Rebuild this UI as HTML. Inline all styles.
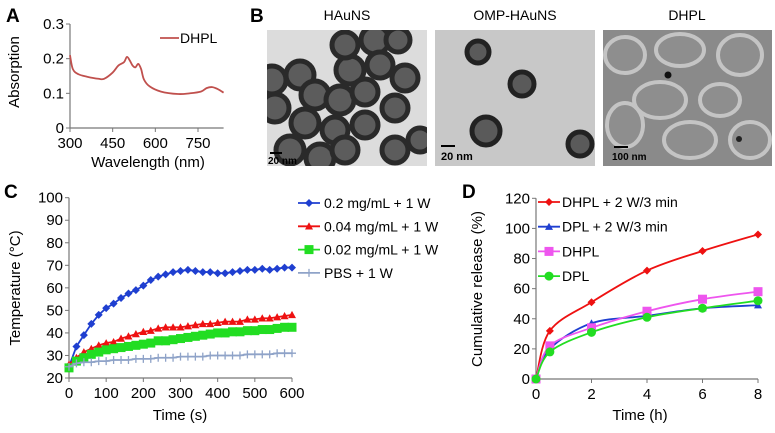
<!DOCTYPE html>
<html><head><meta charset="utf-8"><style>
html,body{margin:0;padding:0;background:#fff}
svg{display:block;font-family:"Liberation Sans",Arial,sans-serif}
</style></head><body>
<svg id="fig" width="775" height="433" viewBox="0 0 775 433">
<text x="6" y="22" font-size="19" font-weight="bold">A</text>
<text x="250" y="22" font-size="19" font-weight="bold">B</text>
<text x="4" y="198" font-size="19" font-weight="bold">C</text>
<text x="462" y="198" font-size="19" font-weight="bold">D</text>

<g>
 <text x="347" y="20" font-size="14" text-anchor="middle">HAuNS</text>
 <rect x="267" y="30" width="160" height="136" fill="#dcdcdc"/>
 <clipPath id="c1"><rect x="267" y="30" width="160" height="136"/></clipPath>
 <g clip-path="url(#c1)" fill="#5c5c5c" stroke="#2a2a2a" stroke-width="5">
  <circle cx="272" cy="80" r="14"/><circle cx="300" cy="75" r="14"/><circle cx="275" cy="108" r="14"/>
  <circle cx="305" cy="123" r="14"/><circle cx="290" cy="150" r="14"/><circle cx="320" cy="158" r="14"/>
  <circle cx="315" cy="95" r="14"/><circle cx="340" cy="100" r="14"/><circle cx="335" cy="130" r="13"/>
  <circle cx="350" cy="70" r="14"/><circle cx="345" cy="45" r="13"/><circle cx="375" cy="40" r="14"/>
  <circle cx="398" cy="40" r="12"/><circle cx="380" cy="65" r="13"/><circle cx="405" cy="78" r="13"/>
  <circle cx="365" cy="92" r="13"/><circle cx="395" cy="108" r="13"/><circle cx="365" cy="125" r="13"/>
  <circle cx="345" cy="150" r="13"/><circle cx="395" cy="150" r="13"/><circle cx="420" cy="140" r="12"/>
 </g>
 <line x1="270" y1="153" x2="282" y2="153" stroke="#000" stroke-width="2"/>
 <text x="268" y="164" font-size="10" font-weight="bold">20 nm</text>
</g>
<g>
 <text x="515" y="20" font-size="14" text-anchor="middle">OMP-HAuNS</text>
 <rect x="435" y="30" width="160" height="136" fill="#c8c8c8"/>
 <g fill="#5a5a5a" stroke="#222" stroke-width="5">
  <circle cx="478" cy="52" r="11"/><circle cx="522" cy="84" r="12"/>
  <circle cx="486" cy="131" r="14"/><circle cx="580" cy="144" r="12"/>
 </g>
 <line x1="441" y1="146" x2="455" y2="146" stroke="#000" stroke-width="2"/>
 <text x="441" y="160" font-size="11" font-weight="bold">20 nm</text>
</g>
<g>
 <text x="687" y="20" font-size="14" text-anchor="middle">DHPL</text>
 <rect x="603" y="30" width="169" height="136" fill="#8a8a8a"/>
 <clipPath id="c3"><rect x="603" y="30" width="169" height="136"/></clipPath>
 <g clip-path="url(#c3)" fill="#8e8e8e" stroke="#c4c4c4" stroke-width="4">
  <ellipse cx="625" cy="55" rx="20" ry="18"/><ellipse cx="680" cy="50" rx="24" ry="16"/>
  <ellipse cx="740" cy="55" rx="22" ry="20"/><ellipse cx="660" cy="100" rx="26" ry="18"/>
  <ellipse cx="720" cy="100" rx="20" ry="16"/><ellipse cx="625" cy="125" rx="18" ry="22"/>
  <ellipse cx="690" cy="140" rx="26" ry="18"/><ellipse cx="750" cy="140" rx="20" ry="18"/>
 </g>
 <circle cx="668" cy="75" r="3.5" fill="#111"/><circle cx="739" cy="139" r="3" fill="#222"/>
 <line x1="614" y1="147" x2="628" y2="147" stroke="#000" stroke-width="2"/>
 <text x="612" y="160" font-size="10" font-weight="bold">100 nm</text>
</g>

<g id="pA"></g>
<g id="pC"></g>
<g id="pD"></g>
</svg>
<script>
const aWavelengths=[300,310,330,360,400,420,450,470,490,500,510,520,530,540,550,560,580,620,680,720,760,780,800,820,840];
const aAbsorption=[0.21,0.17,0.155,0.148,0.142,0.142,0.16,0.18,0.19,0.205,0.195,0.18,0.175,0.185,0.17,0.14,0.12,0.105,0.098,0.1,0.105,0.115,0.118,0.112,0.102];
const aXTicks=[300,450,600,750];
const aYTicks=[0,0.1,0.2,0.3];
const cTimes=[0,20,40,60,80,100,120,140,160,180,200,220,240,260,280,300,320,340,360,380,400,420,440,460,480,500,520,540,560,580,600];
const cBlue=[25,34,39,44,48,51,53,55.5,57.5,59,61,63.5,65,66,67,67.5,68,67.5,67,67,66.5,66.5,67,67.5,68,68,68.5,68,68.5,69,69];
const cRed=[26,29,31.5,33,34.5,35.5,36,37.5,38.5,39.5,40.5,41,42,42.5,42.5,42.5,43,43.5,44,44,44.5,45,45,45,46,46,46.5,46.5,47,47.5,48];
const cGreen=[24.5,27.5,29,30.5,31.5,32.5,33,33.5,34,34.5,35,35.5,36.5,36.5,37,37.5,38,38.5,39,39.5,40,40,40.5,40.5,41,41,41.5,41.5,42,42.5,42.5];
const cGray=[25,26.5,27,27,27.5,27.5,28,28,28,28.5,28.5,28.5,29,29,29,29.5,29.5,29.5,29.5,30,30,30,30,30,30.5,30.5,30.5,30.5,31,31,31];
const cLabels=["0.2 mg/mL + 1 W","0.04 mg/mL + 1 W","0.02 mg/mL + 1 W","PBS + 1 W"];
const cXTicks=[0,100,200,300,400,500,600];
const cYTicks=[20,30,40,50,60,70,80,90,100];
const dTimes=[0,0.5,2,4,6,8];
const dDHPL2W=[0,32,51,72,85,96];
const dDPL2W=[0,20,37,42,47,49];
const dDHPL=[0,22,34,45,53,58];
const dDPL=[0,18,31,41,47,52];
const dLabels=["DHPL + 2 W/3 min","DPL + 2 W/3 min","DHPL","DPL"];
const dXTicks=[0,2,4,6,8];
const dYTicks=[0,20,40,60,80,100,120];

const NS="http://www.w3.org/2000/svg";
function mk(parent,tag,attrs,txt){const e=document.createElementNS(NS,tag);for(const k in attrs)e.setAttribute(k,attrs[k]);if(txt!==undefined)e.textContent=txt;parent.appendChild(e);return e;}
function lin(d0,d1,r0,r1){return v=>r0+(v-d0)*(r1-r0)/(d1-d0);}
function smooth(pts){let d="M"+pts[0][0]+","+pts[0][1];for(let i=0;i<pts.length-1;i++){const p0=pts[i-1]||pts[i],p1=pts[i],p2=pts[i+1],p3=pts[i+2]||p2;const c1=[p1[0]+(p2[0]-p0[0])/6,p1[1]+(p2[1]-p0[1])/6],c2=[p2[0]-(p3[0]-p1[0])/6,p2[1]-(p3[1]-p1[1])/6];d+=" C"+c1+" "+c2+" "+p2;}return d;}
function marker(g,type,x,y,color,s){
 let m;
 if(type==="diamond")m=mk(g,"path",{d:`M${x},${y-s}L${x+s},${y}L${x},${y+s}L${x-s},${y}Z`,fill:color});
 else if(type==="tri")m=mk(g,"path",{d:`M${x},${y-s}L${x+s},${y+s*0.8}L${x-s},${y+s*0.8}Z`,fill:color});
 else if(type==="square")m=mk(g,"rect",{x:x-s,y:y-s,width:2*s,height:2*s,fill:color});
 else if(type==="circle")m=mk(g,"circle",{cx:x,cy:y,r:s,fill:color});
 else m=mk(g,"path",{d:`M${x-s},${y}H${x+s}M${x},${y-s}V${y+s}`,stroke:color,"stroke-width":1.3});
 return m;
}
function axes(g,X,Y,x0,x1,y0,y1,xt,yt,fmtY,fs){
 const ax=mk(g,"path",{d:`M${X(x0)},${Y(y1)}V${Y(y0)}H${X(x1)}`,stroke:"#777",fill:"none","stroke-width":1.2});
 
 yt.forEach(v=>{mk(g,"line",{x1:X(x0)-4,x2:X(x0),y1:Y(v),y2:Y(v),stroke:"#777"});
  const t=mk(g,"text",{x:X(x0)-6,y:Y(v)+5,"font-size":fs,"text-anchor":"end"},fmtY(v));
  });
 xt.forEach(v=>{mk(g,"line",{x1:X(v),x2:X(v),y1:Y(y0),y2:Y(y0)+4,stroke:"#777"});
  const t=mk(g,"text",{x:X(v),y:Y(y0)+20,"font-size":fs,"text-anchor":"middle"},v);
  });
}
(function(){
 const g=document.getElementById("pA");
 const X=lin(300,750,70,198),Y=lin(0,0.3,128,24);
 axes(g,X,Y,300,840,0,0.3,aXTicks,aYTicks,v=>v===0?"0":v.toFixed(1),15);
 const p=mk(g,"path",{d:smooth(aWavelengths.map((w,i)=>[X(w),Y(aAbsorption[i])])),stroke:"#c0504d",fill:"none","stroke-width":1.8});
 
 mk(g,"line",{x1:160,x2:179,y1:38,y2:38,stroke:"#c0504d","stroke-width":1.8});
 const lt=mk(g,"text",{x:180,y:43,"font-size":14},"DHPL");
 const xl=mk(g,"text",{x:148,y:167,"font-size":15,"text-anchor":"middle"},"Wavelength (nm)");
 const yl=mk(g,"text",{x:0,y:0,"font-size":15,"text-anchor":"middle",transform:"translate(19,72) rotate(-90)"},"Absorption");
})();
(function(){
 const g=document.getElementById("pC");
 const X=lin(0,600,69,292),Y=lin(20,100,378,197.7);
 axes(g,X,Y,0,600,20,100,cXTicks,cYTicks,v=>v,15);
 const series=[[cBlue,"#1f3fd0","diamond",4],[cRed,"#ee1111","tri",4],[cGreen,"#22dd22","square",4.5],[cGray,"#8fa3c8","plus",4]];
 series.forEach((s,si)=>{
  const sg=mk(g,"g",{});
  mk(sg,"polyline",{points:cTimes.map((t,i)=>X(t)+","+Y(s[0][i])).join(" "),fill:"none",stroke:s[1],"stroke-width":1.8});
  cTimes.forEach((t,i)=>{const m=marker(sg,s[2],X(t),Y(s[0][i]),s[1],s[3]);});
  const ly=203+si*23.3;
  mk(sg,"line",{x1:298,x2:320,y1:ly,y2:ly,stroke:s[1],"stroke-width":1.8});
  marker(sg,s[2],309,ly,s[1],s[3]);
  const lt=mk(sg,"text",{x:324,y:ly+5,"font-size":14},cLabels[si]);
 });
 const xl=mk(g,"text",{x:180,y:420,"font-size":15,"text-anchor":"middle"},"Time (s)");
 const yl=mk(g,"text",{x:0,y:0,"font-size":15,"text-anchor":"middle",transform:"translate(20,288) rotate(-90)"},"Temperature (°C)");
})();
(function(){
 const g=document.getElementById("pD");
 const X=lin(0,8,536,758),Y=lin(0,120,379,198.3);
 axes(g,X,Y,0,8,0,120,dXTicks,dYTicks,v=>v,15);
 const series=[[dDHPL2W,"#ee1111","diamond",4],[dDPL2W,"#1f3fd0","tri",4],[dDHPL,"#ee55ee","square",4.5],[dDPL,"#22dd22","circle",4.5]];
 series.forEach((s,si)=>{
  const sg=mk(g,"g",{});
  mk(sg,"path",{d:smooth(dTimes.map((t,i)=>[X(t),Y(s[0][i])])),fill:"none",stroke:s[1],"stroke-width":1.8});
  dTimes.forEach((t,i)=>{const m=marker(sg,s[2],X(t),Y(s[0][i]),s[1],s[3]);});
  const ly=202+si*24.7;
  mk(sg,"line",{x1:538,x2:560,y1:ly,y2:ly,stroke:s[1],"stroke-width":1.8});
  marker(sg,s[2],549,ly,s[1],s[3]);
  const lt=mk(sg,"text",{x:562,y:ly+5,"font-size":14},dLabels[si]);
 });
 const xl=mk(g,"text",{x:640,y:420,"font-size":15,"text-anchor":"middle"},"Time (h)");
 const yl=mk(g,"text",{x:0,y:0,"font-size":15,"text-anchor":"middle",transform:"translate(482,289) rotate(-90)"},"Cumulative release (%)");
})();
</script>
</body></html>
